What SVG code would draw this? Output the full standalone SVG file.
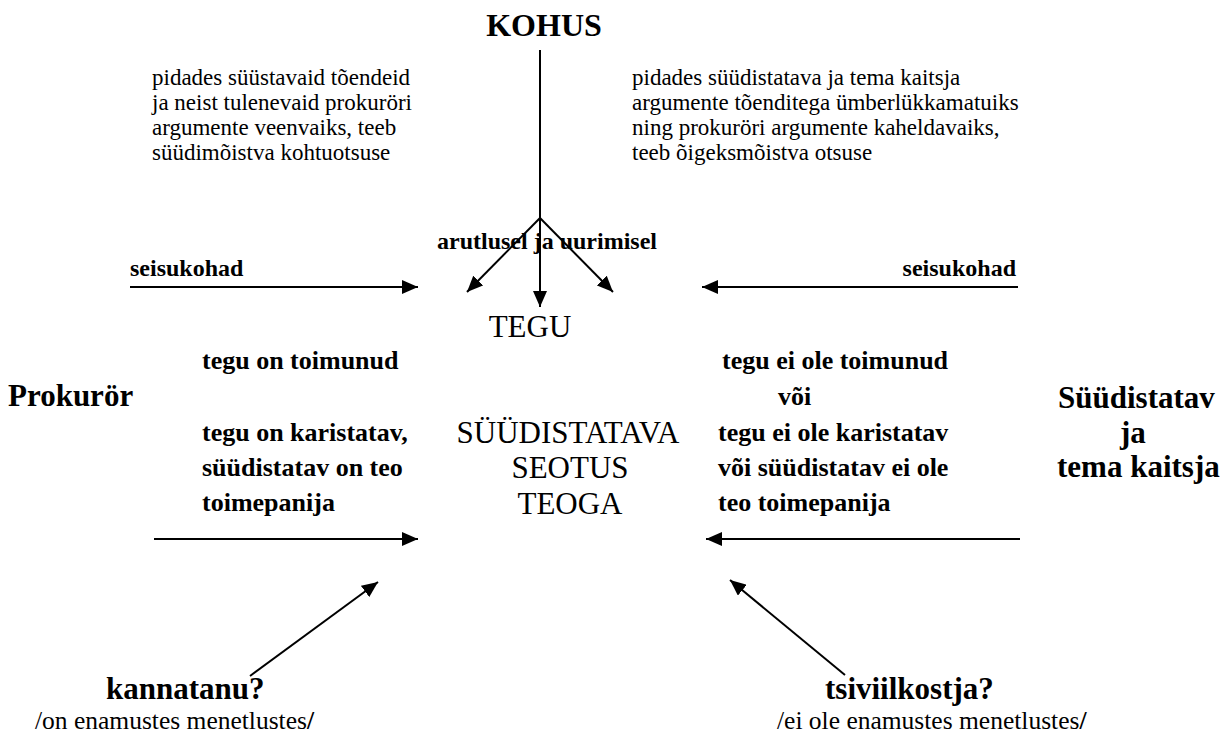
<svg xmlns="http://www.w3.org/2000/svg" width="1229" height="740" viewBox="0 0 1229 740" font-family="Liberation Serif, Times New Roman, serif">
<style>
text{font-family:Liberation Serif, Times New Roman, serif;fill:#000}
.b{font-weight:bold}
.nm{font-size:31px}
.lb{font-size:24px}
.ml{font-size:26px}
.tx{font-size:23px}
.bt{font-size:25.5px}
.ct{font-size:31px}
.ln{stroke:#000;stroke-width:2;fill:none}
</style>
<defs>
<marker id="ah" viewBox="0 0 16 14" refX="16" refY="7" markerWidth="16" markerHeight="14" markerUnits="userSpaceOnUse" orient="auto">
<path d="M0,0 L16,7 L0,14 Z" fill="#000"/>
</marker>
</defs>
<rect width="1229" height="740" fill="#fff"/>
<g id="connectors">
<line class="ln" x1="540" y1="50" x2="540" y2="218"/>
<line class="ln" x1="540" y1="218" x2="540" y2="307" marker-end="url(#ah)"/>
<line class="ln" x1="540" y1="218" x2="467" y2="292" marker-end="url(#ah)"/>
<line class="ln" x1="540" y1="218" x2="613" y2="292" marker-end="url(#ah)"/>
<line class="ln" x1="130" y1="287" x2="418" y2="287" marker-end="url(#ah)"/>
<line class="ln" x1="1018" y1="287" x2="702" y2="287" marker-end="url(#ah)"/>
<line class="ln" x1="154" y1="539" x2="418" y2="539" marker-end="url(#ah)"/>
<line class="ln" x1="1020" y1="539" x2="706" y2="539" marker-end="url(#ah)"/>
<line class="ln" x1="250" y1="676" x2="378" y2="582" marker-end="url(#ah)"/>
<line class="ln" x1="845" y1="675" x2="730" y2="580" marker-end="url(#ah)"/>
</g>
<g id="kohus">
<text class="b" font-size="32" x="544" y="36" text-anchor="middle">KOHUS</text>
</g>
<g id="kohus-left">
<text class="tx" x="152" y="85">pidades süüstavaid tõendeid</text>
<text class="tx" x="152" y="110">ja neist tulenevaid prokuröri</text>
<text class="tx" x="152" y="135">argumente veenvaiks, teeb</text>
<text class="tx" x="152" y="160">süüdimõistva kohtuotsuse</text>
</g>
<g id="kohus-right">
<text class="tx" x="632" y="85">pidades süüdistatava ja tema kaitsja</text>
<text class="tx" x="632" y="110">argumente tõenditega ümberlükkamatuiks</text>
<text class="tx" x="632" y="135">ning prokuröri argumente kaheldavaiks,</text>
<text class="tx" x="632" y="160">teeb õigeksmõistva otsuse</text>
</g>
<g id="arutlus">
<text class="b lb" x="437" y="249">arutlusel ja uurimisel</text>
</g>
<g id="seisukohad-left">
<text class="b lb" x="130" y="276">seisukohad</text>
</g>
<g id="seisukohad-right">
<text class="b lb" x="1016" y="276" text-anchor="end">seisukohad</text>
</g>
<g id="tegu">
<text class="ct" x="530" y="337" text-anchor="middle">TEGU</text>
</g>
<g id="seotus">
<text class="ct" x="568" y="443" text-anchor="middle">SÜÜDISTATAVA</text>
<text class="ct" x="570" y="478" text-anchor="middle">SEOTUS</text>
<text class="ct" x="570" y="514" text-anchor="middle">TEOGA</text>
</g>
<g id="prokuror">
<text class="b nm" x="8" y="406">Prokurör</text>
</g>
<g id="prokuror-args">
<text class="b ml" x="202" y="369">tegu on toimunud</text>
<text class="b ml" x="202" y="441">tegu on karistatav,</text>
<text class="b ml" x="202" y="476">süüdistatav on teo</text>
<text class="b ml" x="202" y="511">toimepanija</text>
</g>
<g id="kaitse-args">
<text class="b ml" x="722" y="369">tegu ei ole toimunud</text>
<text class="b ml" x="778" y="405">või</text>
<text class="b ml" x="718" y="441">tegu ei ole karistatav</text>
<text class="b ml" x="718" y="476">või süüdistatav ei ole</text>
<text class="b ml" x="718" y="511">teo toimepanija</text>
</g>
<g id="syydistatav">
<text class="b nm" x="1058" y="408">Süüdistatav</text>
<text class="b nm" x="1120" y="443">ja</text>
<text class="b nm" x="1057" y="477">tema kaitsja</text>
</g>
<g id="kannatanu">
<text class="b nm" x="106" y="699">kannatanu?</text>
<text class="bt" x="35" y="729">/on enamustes menetlustes<tspan font-weight="bold">/</tspan></text>
</g>
<g id="tsiviilkostja">
<text class="b nm" x="825" y="699">tsiviilkostja?</text>
<text class="bt" x="777" y="729">/ei ole enamustes menetlustes<tspan font-weight="bold">/</tspan></text>
</g>
</svg>
